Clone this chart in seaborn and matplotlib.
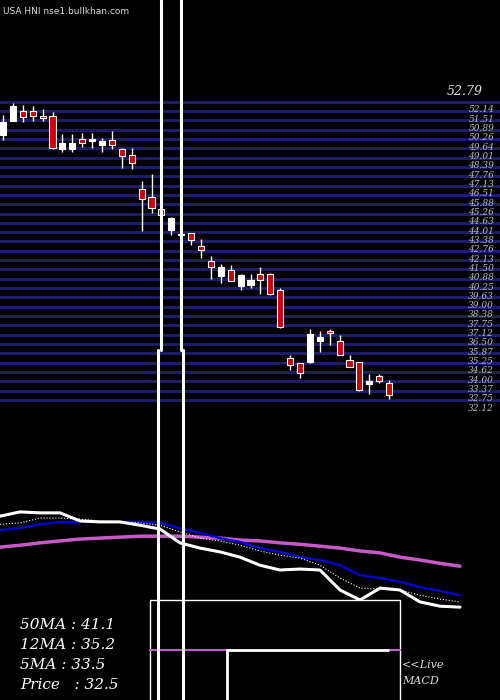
import numpy as np
import pandas as pd
import seaborn as sns
import matplotlib
matplotlib.use("Agg")
import matplotlib.pyplot as plt

# candles: open, close, high, low
opens  = [49.92, 50.86, 51.52, 51.52, 51.19, 51.19, 48.99, 48.99, 49.66, 49.52,
          49.26, 49.59, 48.99, 48.59, 46.26, 45.72, 44.92, 43.52, 43.19, 43.32,
          42.46, 41.46, 40.46, 40.86, 39.79, 39.86, 40.59, 40.59, 39.52, 34.92,
          34.59, 34.66, 36.06, 36.72, 36.06, 34.79, 34.66, 33.19, 33.72, 33.26]
closes = [50.79, 51.86, 51.12, 51.19, 51.06, 49.06, 49.39, 49.39, 49.39, 49.59,
          49.52, 49.26, 48.46, 47.99, 45.59, 44.99, 44.52, 44.32, 43.26, 42.86,
          42.19, 41.06, 41.06, 40.12, 40.52, 40.19, 40.19, 39.26, 36.99, 34.46,
          33.92, 36.52, 36.32, 36.59, 35.12, 34.32, 32.79, 33.39, 33.39, 32.46]
highs  = [51.26, 52.06, 51.92, 51.86, 51.66, 51.46, 49.99, 49.99, 50.06, 50.06,
          49.72, 50.19, 49.06, 49.06, 46.79, 47.26, 44.99, 44.39, 43.72, 43.32,
          42.92, 41.79, 41.26, 41.19, 40.59, 40.59, 41.06, 40.66, 39.66, 35.12,
          34.59, 36.86, 36.72, 36.86, 36.46, 35.12, 34.66, 33.86, 33.86, 33.46]
lows   = [49.59, 50.86, 50.79, 50.86, 50.86, 48.99, 48.79, 48.79, 49.12, 49.06,
          48.79, 48.99, 47.72, 47.59, 43.46, 44.66, 44.26, 43.19, 42.79, 42.52,
          41.66, 40.26, 39.99, 40.12, 39.52, 39.66, 39.26, 39.19, 36.92, 34.12,
          33.59, 34.59, 35.32, 35.79, 35.12, 34.32, 32.72, 32.52, 33.26, 32.19]

# moving average panel (sampled every 20 px)
price_line = [51.8, 52.7, 52.5, 52.5, 50.8, 50.6, 50.6, 49.9, 49.1, 46.2, 45.1, 44.3,
              43.2, 41.5, 40.5, 40.7, 40.5, 36.3, 34.2, 36.7, 36.3, 33.8, 32.9, 32.7]
ma5  = [50.1, 50.4, 51.4, 51.4, 51.2, 50.8, 50.6, 50.4, 49.9, 48.5, 47.2, 46.6,
        45.7, 44.5, 43.6, 43.0, 41.5, 38.8, 36.7, 36.5, 36.3, 35.2, 34.4, 33.8]
ma12 = [48.9, 49.3, 50.1, 50.6, 50.6, 50.6, 50.6, 50.6, 50.4, 49.3, 48.3, 47.2,
        46.4, 45.1, 44.3, 43.2, 42.6, 41.5, 39.4, 38.8, 38.0, 36.9, 36.1, 35.2]
ma50 = [45.3, 45.7, 46.2, 46.6, 47.0, 47.2, 47.4, 47.6, 47.6, 47.6, 47.4, 47.2,
        46.8, 46.6, 46.2, 45.9, 45.5, 45.1, 44.5, 44.1, 43.2, 42.6, 41.9, 41.3]

legend_labels = ["50MA : 41.1", "12MA : 35.2", "5MA : 33.5", "Price   : 32.5"]
top_price = 52.79

sns.set_style("dark")
fig = plt.figure(figsize=(5, 7), dpi=100, facecolor="black")

# candle axes
ax = fig.add_axes([0, 0, 1, 1])
ax.set_facecolor("black")
ax.set_xlim(-0.303, 50.2)
ax.set_ylim(11.99, 58.96)
ax.axis("off")

levels = np.linspace(52.14, 32.12, 33)
for lv in levels:
    ax.axhline(lv, color="#1c1c6b", lw=2.2, zorder=1)
    ax.text(47.0, lv - 0.25, f"{lv:.2f}", color="#bbbbbb", fontsize=6.5,
            family="DejaVu Serif", style="italic", va="top", ha="left", zorder=2)
ax.text(44.8, top_price, f"{top_price:.2f}", color="#dddddd", fontsize=9,
        family="DejaVu Serif", style="italic", va="center", ha="left")

for i, (o, c, h, l) in enumerate(zip(opens, closes, highs, lows)):
    col = "white" if c >= o else "#cc0000"
    ax.vlines(i, l, h, color="white", lw=1, zorder=3)
    ax.bar(i, max(abs(c - o), 0.08), bottom=min(o, c), width=0.62,
           color=col, edgecolor="white", linewidth=0.8, zorder=4)

# moving average axes
ax2 = fig.add_axes([0, 0, 1, 1])
ax2.patch.set_alpha(0)
ax2.set_xlim(0, 500)
ax2.set_ylim(13.2, 160.2)
ax2.axis("off")
xs = np.arange(len(price_line)) * 20
df = pd.DataFrame({"x": xs, "price": price_line, "ma5": ma5, "ma12": ma12, "ma50": ma50})
sns.lineplot(data=df, x="x", y="ma50", ax=ax2, color="#c85ac8", lw=2.5)
sns.lineplot(data=df, x="x", y="ma12", ax=ax2, color="#0000dd", lw=1.6)
sns.lineplot(data=df, x="x", y="ma5", ax=ax2, color="white", lw=0.8, linestyle=":")
sns.lineplot(data=df, x="x", y="price", ax=ax2, color="white", lw=2.2)

# overlay decorations in pixel units
ov = fig.add_axes([0, 0, 1, 1])
ov.patch.set_alpha(0)
ov.set_xlim(0, 500)
ov.set_ylim(700, 0)
ov.axis("off")
ov.add_patch(plt.Rectangle((150, 600), 250, 110, fill=True, fc="black", ec="white", lw=1, zorder=5))
ov.plot([150, 227], [650, 650], color="#c85ac8", lw=1.5, zorder=6)
ov.plot([388, 400], [650, 650], color="#c85ac8", lw=1.5, zorder=6)
ov.plot([227, 388], [650, 650], color="white", lw=2, zorder=6)
ov.plot([227, 227], [650, 700], color="white", lw=2, zorder=6)
for xa, xb in [(161, 158), (181, 183)]:
    ov.plot([xa, xa], [0, 350], color="white", lw=2.2, zorder=7)
    ov.plot([xb, xb], [350, 700], color="white", lw=2.2, zorder=7)
ov.text(402, 665, "<<Live", color="#dddddd", fontsize=8, family="DejaVu Serif", style="italic", va="center")
ov.text(402, 681, "MACD", color="#dddddd", fontsize=8, family="DejaVu Serif", style="italic", va="center")
for k, lab in enumerate(legend_labels):
    ov.text(20, 625 + k * 20, lab, color="white", fontsize=11, family="DejaVu Serif",
            style="italic", va="center", zorder=8)
ov.text(3, 12, "USA HNI nse1.bullkhan.com", color="#dddddd", fontsize=6.5, va="center")

fig.savefig("out.png", dpi=100, facecolor="black")
